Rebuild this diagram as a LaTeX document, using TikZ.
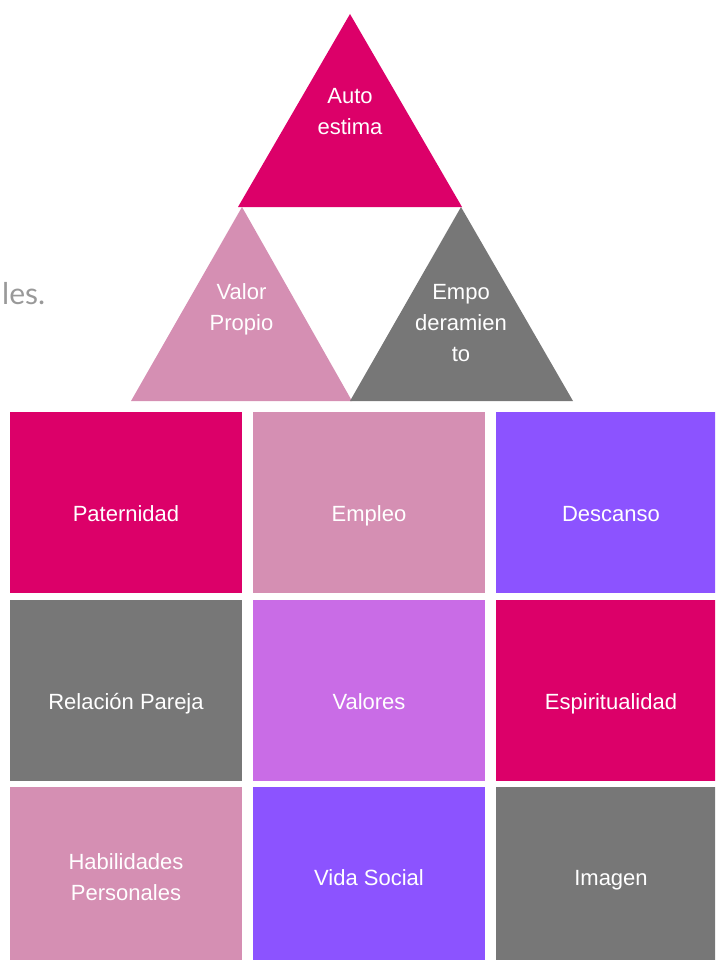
\documentclass[tikz,border=0pt]{standalone}
\usepackage{fontspec}
\setmainfont{Liberation Sans}
\newfontfamily\thinfont{Lato}
\definecolor{fucsia}{HTML}{DC0069}
\definecolor{rosa}{HTML}{D58FB3}
\definecolor{violeta}{HTML}{8C53FF}
\definecolor{lila}{HTML}{C96CE6}
\definecolor{gris}{HTML}{777777}

\begin{document}
\begin{tikzpicture}[x=1pt,y=-1pt,
  tile/.style={minimum width=232pt,minimum height=181pt,inner sep=0pt},
  lbl/.style={text=white,font=\fontsize{22}{31}\selectfont,align=center,inner sep=0pt}]
  \clip (0,0) rectangle (715,960);

  \node[anchor=base west,text=gris!75,font=\thinfont\fontsize{30}{36}\selectfont,inner sep=0pt] (frase) at (2,304) {les.};

  \fill[fucsia] (350,14) -- (462,207) -- (238,207) -- cycle;
  \fill[rosa] (242,207) -- (352,401) -- (131,401) -- cycle;
  \fill[gris] (461,207) -- (573,401) -- (350,401) -- cycle;
  \node[lbl] (auto) at (350,111.5) {Auto\\estima};
  \node[lbl] (valor) at (241.5,309) {Valor\\Propio};
  \node[lbl] (empo) at (461,323) {Empo\\deramien\\to};

  \node[tile,fill=fucsia] (paternidad) at (126,502.5) {};
  \node[tile,fill=rosa] (empleo) at (369,502.5) {};
  \node[tile,fill=violeta] (descanso) at (612,502.5) {};
  \node[tile,fill=gris] (pareja) at (126,690.5) {};
  \node[tile,fill=lila] (valores) at (369,690.5) {};
  \node[tile,fill=fucsia] (espiritu) at (612,690.5) {};
  \node[tile,fill=rosa] (habilidades) at (126,877.5) {};
  \node[tile,fill=violeta] (social) at (369,877.5) {};
  \node[tile,fill=gris] (imagen) at (612,877.5) {};

  \node[lbl,anchor=base] (t-paternidad) at (126,521.5) {Paternidad};
  \node[lbl,anchor=base] (t-empleo) at (369,521.5) {Empleo};
  \node[lbl,anchor=base] (t-descanso) at (611,521.5) {Descanso};
  \node[lbl,anchor=base] (t-pareja) at (126,709.5) {Relación Pareja};
  \node[lbl,anchor=base] (t-valores) at (369,709.5) {Valores};
  \node[lbl,anchor=base] (t-espiritu) at (611,709.5) {Espiritualidad};
  \node[lbl] (t-habilidades) at (126,877.5) {Habilidades\\Personales};
  \node[lbl,anchor=base] (t-social) at (369,885.5) {Vida Social};
  \node[lbl,anchor=base] (t-imagen) at (611,885.5) {Imagen};
\end{tikzpicture}
\end{document}
